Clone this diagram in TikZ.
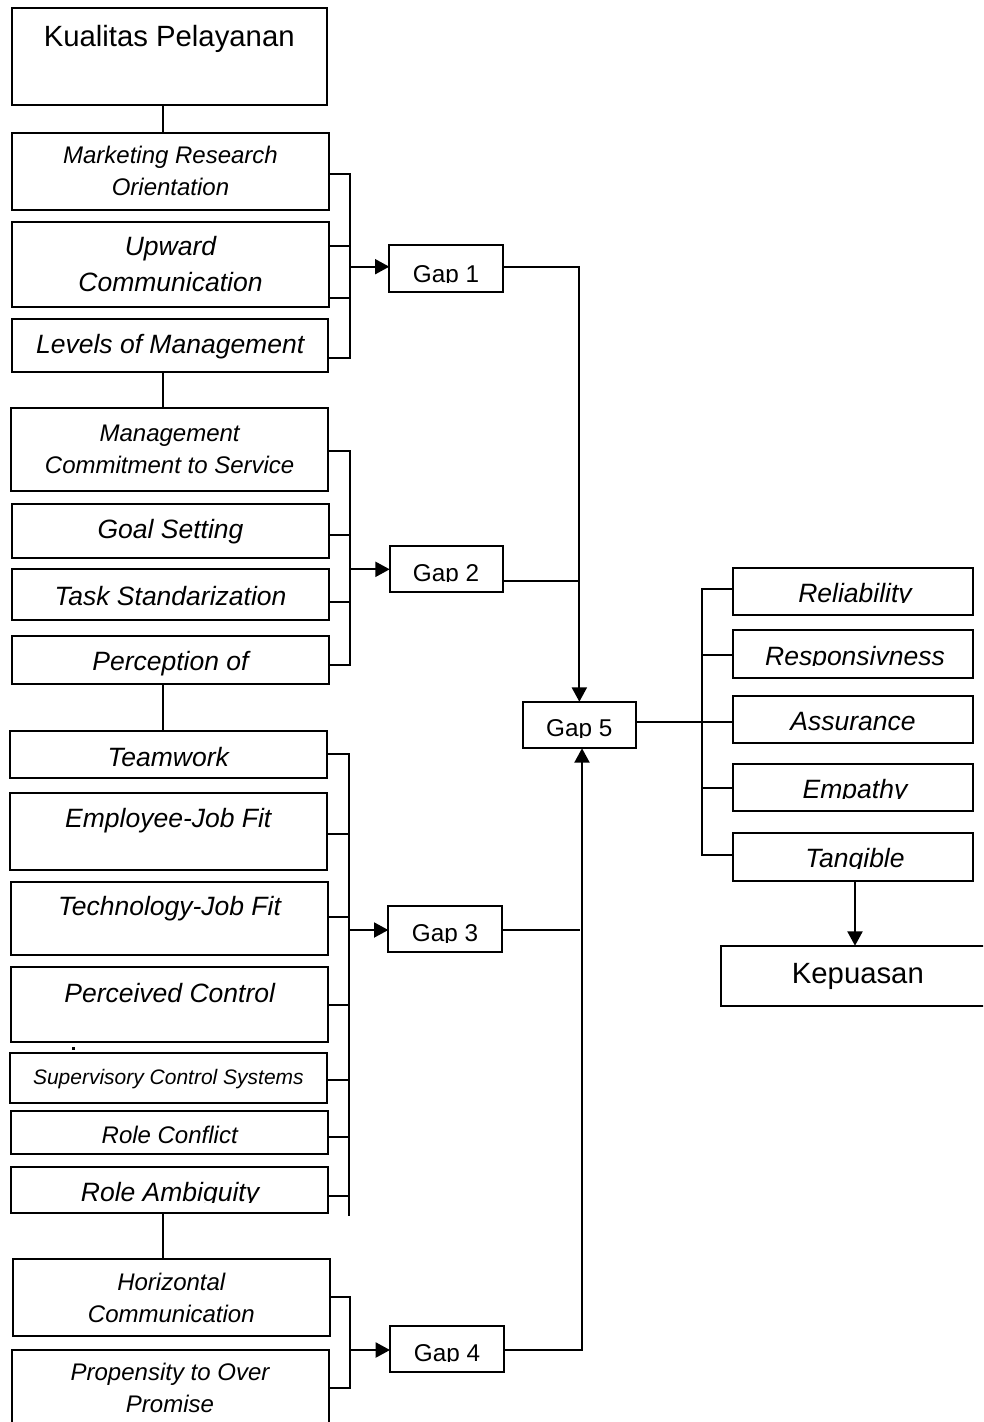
\documentclass[tikz,border=0pt]{standalone}
\usepackage{fontspec}
\setmainfont{Liberation Sans}
\usetikzlibrary{arrows.meta,calc}
\newcommand\mycut[5]{\begin{scope}\clip ($(#2,#3)+(-160,-60)$) rectangle ($(#2,#3)+(160,0.5)$);\node[anchor=base,inner sep=0pt,#4] (#1) at (#2,#3) {#5};\end{scope}}
\begin{document}
\begin{tikzpicture}[x=1pt,y=-1pt,
 box/.style={draw, line width=2pt, inner sep=0pt, outer sep=0pt, anchor=north west},
 ln/.style={line width=2pt},
 arr/.style={line width=2pt, -{Triangle[length=14.3pt,width=15pt]}},
 fA/.style={font=\fontsize{24}{32}\selectfont\itshape},
 fB/.style={font=\fontsize{26.5}{36}\selectfont\itshape},
 fC/.style={font=\fontsize{21}{26}\selectfont\itshape},
 fG/.style={font=\fontsize{24.3}{28}\selectfont},
 fK/.style={font=\fontsize{29.3}{34}\selectfont},
]
\clip (0,0) rectangle (983,1422);

% left column
\node[box, minimum width=314.5pt, text height=38.7pt, text depth=58.3pt, fK] (kp) at (12,8) {Kualitas Pelayanan};
\node[box, minimum width=317.6pt, minimum height=77.3pt, fA, align=center] (mro) at (11.7,132.7) {Marketing Research\\Orientation};
\node[box, minimum width=317.6pt, minimum height=85pt, fB, align=center] (uc) at (11.7,221.7) {Upward\\Communication};
\node[box, minimum width=316.3pt, text height=34.8pt, text depth=19pt, fB] (lom) at (12,318.5) {Levels of Management};

\node[box, minimum width=317.3pt, minimum height=83.3pt, fA, align=center] (mcs) at (11,407.7) {Management\\Commitment to Service};
\node[box, minimum width=317pt, text height=34.3pt, text depth=20pt, fB] (gs) at (12,504) {Goal Setting};
\node[box, minimum width=317pt, text height=36pt, text depth=15pt, fB] (ts) at (12,569) {Task Standarization};
\node[box, minimum width=317pt, text height=34.3pt, text depth=14.3pt, fB] (po) at (12,635.7) {Perception of};

\node[box, minimum width=317.4pt, text height=35.7pt, text depth=11pt, fB] (tw) at (9.6,731) {Teamwork};
\node[box, minimum width=317.4pt, text height=34.6pt, text depth=42.7pt, fB] (ejf) at (9.6,792.7) {Employee-Job Fit};
\node[box, minimum width=317pt, text height=33.3pt, text depth=40pt, fB] (tjf) at (11,881.7) {Technology-Job Fit};
\node[box, minimum width=317.4pt, text height=35.4pt, text depth=39.6pt, fB] (pc) at (11,967.3) {Perceived Control};
\node[box, minimum width=317.6pt, text height=31.3pt, text depth=18.7pt, fC] (scs) at (9.6,1052.7) {Supervisory Control Systems};
\node[box, minimum width=317.4pt, text height=32.6pt, text depth=10.7pt, fA] (rc) at (11,1110.7) {Role Conflict};
\node[box, minimum width=317.4pt, minimum height=46.6pt] (ra) at (11,1166.7) {};
\mycut{rat}{170}{1201.7}{fB}{Role Ambiguity}

\node[box, minimum width=317.4pt, minimum height=77pt, fA, align=center] (hc) at (12.6,1259) {Horizontal\\Communication};
\node[box, minimum width=317pt, minimum height=76pt, fA, align=center] (ptop) at (11.5,1350) {Propensity to Over\\Promise};

\fill (72.3,1047.3) rectangle (74.6,1049.6);

% gaps
\node[box, minimum width=113.4pt, minimum height=46.4pt] (gap1) at (389.3,245.3) {};
\node[box, minimum width=113pt, minimum height=46.6pt] (gap2) at (389.7,545.7) {};
\node[box, minimum width=113.4pt, minimum height=46.3pt] (gap3) at (388.3,906) {};
\node[box, minimum width=114pt, minimum height=46pt] (gap4) at (390,1326) {};
\node[box, minimum width=113.3pt, minimum height=46.6pt] (gap5) at (522.7,701.7) {};
\mycut{g1t}{446}{282}{fG}{Gap 1}
\mycut{g2t}{446}{581}{fG}{Gap 2}
\mycut{g3t}{445}{941.7}{fG}{Gap 3}
\mycut{g4t}{447}{1361}{fG}{Gap 4}
\mycut{g5t}{579.3}{736.7}{fG}{Gap 5}

% right column
\node[box, minimum width=239.4pt, minimum height=47.3pt] (rel) at (733.3,567.7) {};
\node[box, minimum width=239.4pt, minimum height=47.7pt] (resp) at (733.3,630) {};
\node[box, minimum width=239.4pt, text height=34pt, text depth=13.3pt, fB] (assu) at (733.3,696) {Assurance};
\node[box, minimum width=239.4pt, minimum height=47.6pt] (emp) at (733.3,763.7) {};
\node[box, minimum width=239.4pt, minimum height=47.4pt] (tang) at (733.3,833.3) {};
\mycut{relt}{855}{602.3}{fB}{Reliability}
\mycut{respt}{855}{665}{fB}{Responsivness}
\mycut{empt}{855}{798.3}{fB}{Empathy}
\mycut{tangt}{855}{867.7}{fB}{Tangible}
\node[box, minimum width=274.3pt, text height=37.6pt, text depth=22.4pt, fK] (kep) at (720.7,945.7) {Kepuasan};

% vertical links between groups
\draw[ln] (kp.south -| 162.7,0) -- (mro.north -| 162.7,0);
\draw[ln] (lom.south -| 162.7,0) -- (mcs.north -| 162.7,0);
\draw[ln] (po.south -| 162.7,0) -- (tw.north -| 162.7,0);
\draw[ln] (ra.south -| 162.7,0) -- (hc.north -| 162.7,0);

% bracket 1
\coordinate (j1) at (350,266.7);
\draw[ln] (mro.east |- 0,174) -| (j1) |- (lom.east |- 0,357.7);
\draw[ln] (uc.east |- 0,245.7) -- (j1 |- 0,245.7);
\draw[ln] (uc.east |- 0,297.7) -- (j1 |- 0,297.7);
\draw[arr] (j1) -- (j1 -| gap1.west);

% bracket 2
\coordinate (j2) at (350,569.3);
\draw[ln] (mcs.east |- 0,451) -| (j2) |- (po.east |- 0,665);
\draw[ln] (gs.east |- 0,535) -- (j2 |- 0,535);
\draw[ln] (ts.east |- 0,601.7) -- (j2 |- 0,601.7);
\draw[arr] (j2) -- (j2 -| gap2.west);

% bracket 3
\coordinate (j3) at (349,930);
\coordinate (b3e) at (349,1215.7);
\draw[ln] (tw.east |- 0,754.3) -| (j3) -- (b3e);
\draw[ln] (ejf.east |- 0,834) -- (j3 |- 0,834);
\draw[ln] (tjf.east |- 0,916.7) -- (j3 |- 0,916.7);
\draw[ln] (pc.east |- 0,1005) -- (j3 |- 0,1005);
\draw[ln] (scs.east |- 0,1080) -- (j3 |- 0,1080);
\draw[ln] (rc.east |- 0,1136.7) -- (j3 |- 0,1136.7);
\draw[ln] (ra.east |- 0,1195.7) -- (j3 |- 0,1195.7);
\draw[arr] (j3) -- (j3 -| gap3.west);

% bracket 4
\coordinate (j4) at (349.5,1350);
\draw[ln] (hc.east |- 0,1296.7) -| (j4) |- (ptop.east |- 0,1388);
\draw[arr] (j4) -- (j4 -| gap4.west);

% gaps to gap 5
\draw[arr] (gap1.east |- 0,267.3) -| (gap5.north);
\draw[ln] (gap2.east |- 0,581) -- (gap5.north |- 0,581);
\coordinate (k3) at (580,930);
\draw[ln] (gap3.east |- k3) -- (k3);
\draw[arr] (gap4.east |- 0,1350) -| (gap5.south -| 582,0);

% right side
\coordinate (r) at (702.3,721.7);
\draw[ln] (gap5.east |- r) -- (assu.west |- r);
\draw[ln] (rel.west |- 0,589) -| (r) |- (tang.west |- 0,855);
\draw[ln] (resp.west |- 0,655) -- (r |- 0,655);
\draw[ln] (emp.west |- 0,788) -- (r |- 0,788);
\draw[arr] (tang.south -| 855,0) -- (kep.north -| 855,0);
\end{tikzpicture}
\end{document}
